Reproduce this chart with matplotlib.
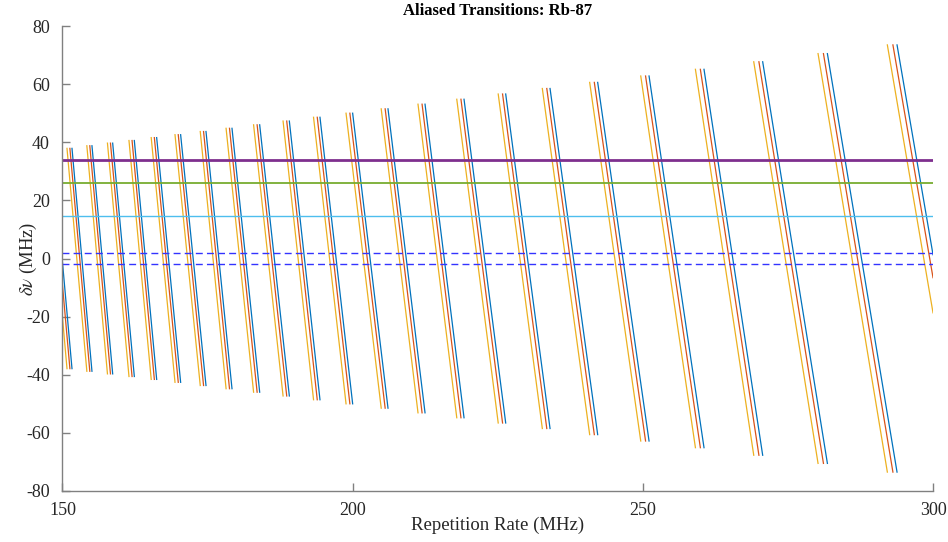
import matplotlib
matplotlib.use("Agg")
import matplotlib.pyplot as plt
import numpy as np

plt.rcParams['font.family'] = ['Liberation Serif', 'DejaVu Serif']
plt.rcParams['mathtext.fontset'] = 'stix'
plt.rcParams['axes.unicode_minus'] = False

# repetition rates (MHz) where each aliased transition wraps from bottom to top
jumps_blue = [151.64, 155.08, 158.65, 162.38, 166.23, 170.36, 174.73, 179.21,
              183.98, 189.09, 194.37, 200.00, 206.09, 212.47, 219.19, 226.37,
              234.01, 242.22, 251.07, 260.54, 270.65, 281.80, 293.80]
jumps_red = [151.28, 154.71, 158.27, 161.99, 165.83, 169.95, 174.31, 178.78,
             183.54, 188.64, 193.90, 199.52, 205.60, 211.96, 218.66, 225.83,
             233.45, 241.64, 250.47, 259.91, 270.00, 281.12, 293.09]
jumps_yellow = [150.78, 154.20, 157.75, 161.46, 165.29, 169.39, 173.74, 178.19,
                182.93, 188.01, 193.26, 198.86, 204.92, 211.26, 217.94, 225.08,
                232.68, 240.84, 249.64, 259.06, 269.11, 280.19, 292.13]
# size of the detuning window at each wrap (MHz)
edge = [37.9, 38.8, 39.7, 40.6, 41.6, 42.6, 43.7, 44.8, 46.0, 47.3, 48.6, 50.0,
        51.5, 53.1, 54.8, 56.6, 58.5, 60.6, 62.8, 65.1, 67.7, 70.5, 73.5]
# detuning at the ends of the scan
start_vals = {'blue': -1.3, 'red': -9.2, 'yellow': -20.3}
end_vals = {'blue': 1.3, 'red': -6.6, 'yellow': -18.7}

frep_min, frep_max = 150., 300.
ref_levels = [34.0, 26.0, 14.5]
ref_colors = ['#7E2F8E', '#77AC30', '#4DBEEE']
ref_widths = [2.0, 1.3, 1.0]
lock_band = [2.0, -2.0]


def sawtooth(jumps, first, last):
    xs, ys = [frep_min], [first]
    for xj, a in zip(jumps, edge):
        xs += [xj, np.nan, xj]
        ys += [-a, np.nan, a]
    xs.append(frep_max)
    ys.append(last)
    return np.array(xs), np.array(ys)


fig = plt.figure(figsize=(9.48, 5.42), dpi=100)
ax = fig.add_axes([0.0659, 0.0941, 0.9183, 0.8579])

series = [('yellow', jumps_yellow, '#EDB120'),
          ('red', jumps_red, '#D95319'),
          ('blue', jumps_blue, '#0072BD')]
for name, jumps, col in series:
    x, y = sawtooth(jumps, start_vals[name], end_vals[name])
    ax.plot(x, y, color=col, lw=0.9)

for lvl, col, lw in zip(ref_levels, ref_colors, ref_widths):
    ax.plot([frep_min, frep_max], [lvl, lvl], color=col, lw=lw)
for lvl in lock_band:
    ax.plot([frep_min, frep_max], [lvl, lvl], color='#3333FF', lw=1.0, ls=(0, (5, 3)))

ax.set_xlim(frep_min, frep_max)
ax.set_ylim(-80, 80)
ax.set_xticks([150, 200, 250, 300])
ax.set_yticks(np.arange(-80, 81, 20))
ax.spines['top'].set_visible(False)
ax.spines['right'].set_visible(False)
for s in ['left', 'bottom']:
    ax.spines[s].set_color('#808080')
    ax.spines[s].set_linewidth(1.0)
ax.tick_params(direction='in', length=6, width=1.0, color='#808080',
               labelsize=13, labelcolor='#262626')
ax.tick_params(axis='y', pad=9)
ax.tick_params(axis='x', pad=8)

ax.set_xlabel('Repetition Rate (MHz)', fontsize=13.5, color='#262626')
ax.set_ylabel(r'$\delta\nu$ (MHz)', fontsize=13.5, color='#262626')
ax.xaxis.set_label_coords(0.5, -0.073)
ax.xaxis.label.set_va('center')
ax.yaxis.set_label_coords(-0.0396, 0.5)
ax.yaxis.label.set_va('center')
ax.set_title('Aliased Transitions: Rb-87', fontsize=12, fontweight='bold', pad=8)

fig.savefig('out.png', dpi=100)
